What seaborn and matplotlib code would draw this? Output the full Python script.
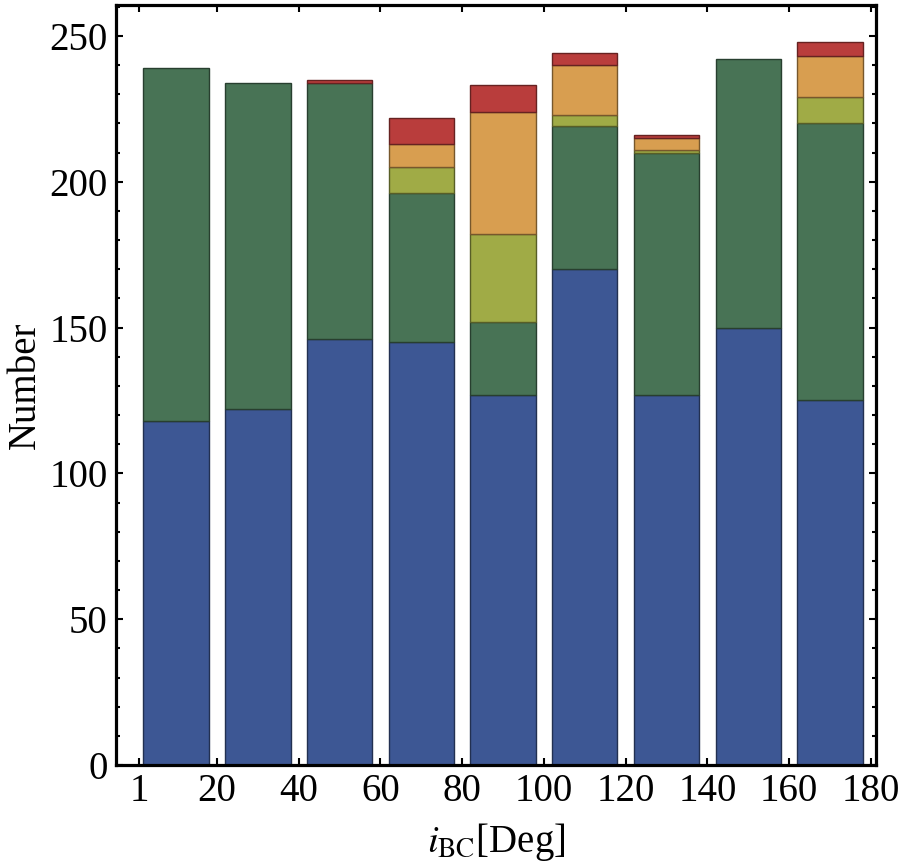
import numpy as np
import pandas as pd
import matplotlib
matplotlib.use("Agg")
import matplotlib.pyplot as plt
import matplotlib.colors as mcolors
import seaborn as sns

# bins of i_BC (deg), centres of the 20-degree bins
bin_centers = [10, 30, 50, 70, 90, 110, 130, 150, 170]
bin_edges = list(range(0, 181, 20))

# counts per group, bottom to top of each stack
blue_counts = [118, 122, 146, 145, 127, 170, 127, 150, 125]
green_counts = [121, 112, 88, 51, 25, 49, 83, 92, 95]
olive_counts = [0, 0, 0, 9, 30, 4, 1, 0, 9]
orange_counts = [0, 0, 0, 8, 42, 17, 4, 0, 14]
red_counts = [0, 0, 1, 9, 9, 4, 1, 0, 5]

groups = ["g1", "g2", "g3", "g4", "g5"]
colors = ["#3D5794", "#487355", "#A0AB46", "#D89E50", "#B93D3C"]
x_ticks = [1, 20, 40, 60, 80, 100, 120, 140, 160, 180]

rows = []
for g, counts in zip(groups, [blue_counts, green_counts, olive_counts, orange_counts, red_counts]):
    for c, n in zip(bin_centers, counts):
        rows.append({"angle": c, "group": g, "count": n})
df = pd.DataFrame(rows)

sns.set_style("ticks")
plt.rcParams["font.family"] = ["Liberation Serif", "DejaVu Serif"]
plt.rcParams["mathtext.fontset"] = "stix"
plt.rcParams["text.color"] = "black"
plt.rcParams["axes.labelcolor"] = "black"
plt.rcParams["xtick.color"] = "black"
plt.rcParams["ytick.color"] = "black"
plt.rcParams["axes.edgecolor"] = "black"

fig = plt.figure(figsize=(9, 8.67), dpi=100)
ax = fig.add_axes([0.129, 0.1176, 0.844, 0.877])

# seaborn stacks the last hue level at the bottom, so reverse the order
sns.histplot(data=df, x="angle", weights="count", hue="group", hue_order=groups[::-1],
             multiple="stack", bins=bin_edges, shrink=0.8, palette=colors[::-1],
             alpha=1, linewidth=1, legend=False, ax=ax)

# darker outline per segment, hide empty segments
for p in ax.patches:
    if p.get_height() <= 0:
        p.set_visible(False)
        continue
    fc = np.array(mcolors.to_rgb(p.get_facecolor()))
    p.set_edgecolor(fc * 0.55)

ax.set_xlim(-4.7, 181.2)
ax.set_ylim(0, 260.7)
ax.set_xticks(x_ticks)
ax.set_yticks(range(0, 251, 50))
ax.set_yticks(range(0, 261, 10), minor=True)

ax.tick_params(axis="both", which="both", direction="in", top=True, right=True,
               width=1.5, labelsize=28, pad=6, colors="black")
ax.tick_params(which="major", length=5)
ax.tick_params(which="minor", length=3)
ax.tick_params(axis="x", which="minor", bottom=False, top=False)
for s in ax.spines.values():
    s.set_linewidth(2.3)
    s.set_color("black")
    s.set_visible(True)

ax.set_ylabel("Number", fontsize=28, labelpad=4)
ax.set_xlabel(r"$\mathit{i}_{\mathrm{BC}}$[Deg]", fontsize=28, labelpad=8)

fig.savefig("out.png", dpi=100)
